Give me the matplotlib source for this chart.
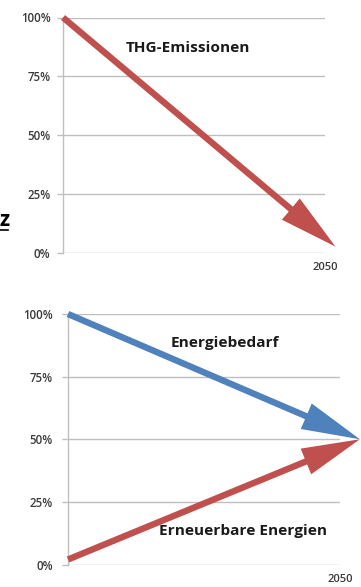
import matplotlib
matplotlib.use("Agg")
import matplotlib.pyplot as plt
from matplotlib.patches import FancyArrowPatch, ArrowStyle
from matplotlib.lines import Line2D

plt.rcParams['font.family'] = ['Open Sans', 'DejaVu Sans']

# Axis content
pct_ticks = [0, 25, 50, 75, 100]
pct_labels = ["0%", "25%", "50%", "75%", "100%"]
end_label = "2050"

# Arrow paths: x runs from today (0) to 2050 (1); values in percent
thg_x = [0.0, 1.04]
thg_y = [100, 2.5]
bedarf_x = [0.0, 1.073]
bedarf_y = [100, 50]
ee_x = [0.0, 1.073]
ee_y = [2, 50]

RED = "#C0504D"
BLUE = "#4F81BD"
GRID = "#BFBFBF"
TICKTXT = "#3a3a3a"

W, H = 361, 587
fig = plt.figure(figsize=(W / 100, H / 100), dpi=100)


def make_axes(left, right, top, bottom, pad):
    ax = fig.add_axes([left / W, 1 - bottom / H, (right - left) / W, (bottom - top) / H])
    ax.set_xlim(0, 1)
    ax.set_ylim(0, 100)
    for s in ("top", "right", "bottom"):
        ax.spines[s].set_visible(False)
    ax.spines["left"].set_color(GRID)
    ax.spines["left"].set_linewidth(1.0)
    ax.set_yticks(pct_ticks)
    ax.set_yticklabels(pct_labels)
    ax.tick_params(axis="y", length=4, width=1.0, color=GRID, pad=pad,
                   labelsize=8.3, labelcolor=TICKTXT)
    ax.set_xticks([1.0])
    ax.set_xticklabels([end_label])
    ax.tick_params(axis="x", length=0, pad=7, labelsize=8.0, labelcolor=TICKTXT)
    for lab in ax.get_yticklabels() + ax.get_xticklabels():
        lab.set_fontweight("semibold")
    ax.grid(axis="y", color=GRID, linewidth=1.0)
    ax.set_axisbelow(True)
    ax.set_facecolor("none")
    return ax


def arrow(ax, xs, ys, color):
    style = ArrowStyle.Simple(head_length=42, head_width=20, tail_width=4.6)
    p = FancyArrowPatch((xs[0], ys[0]), (xs[1], ys[1]), arrowstyle=style,
                        mutation_scale=1, color=color, shrinkA=0, shrinkB=0,
                        clip_on=False, zorder=3, linewidth=0)
    ax.add_patch(p)


ax1 = make_axes(63, 325, 17.5, 252.5, pad=5)
arrow(ax1, thg_x, thg_y, RED)
ax1.text(0.476, 87, "THG-Emissionen", fontsize=11.1, fontweight="bold",
         ha="center", va="center", color="#1a1a1a")

ax2 = make_axes(68, 340, 314, 564.5, pad=7)
arrow(ax2, bedarf_x, bedarf_y, BLUE)
arrow(ax2, ee_x, ee_y, RED)
ax2.text(0.577, 88.5, "Energiebedarf", fontsize=11.1, fontweight="bold",
         ha="center", va="center", color="#1a1a1a")
ax2.text(0.643, 13.5, "Erneuerbare Energien", fontsize=11.1, fontweight="bold",
         ha="center", va="center", color="#1a1a1a")

# clipped letter at the left edge
fig.text(-1 / W, 1 - 221 / H, "z", fontsize=15, fontweight="bold",
         ha="left", va="center", color="black")
fig.add_artist(Line2D([0, 8 / W], [1 - 230 / H, 1 - 230 / H], color="black",
                      linewidth=1.2, transform=fig.transFigure))

fig.savefig("out.png", dpi=100)
